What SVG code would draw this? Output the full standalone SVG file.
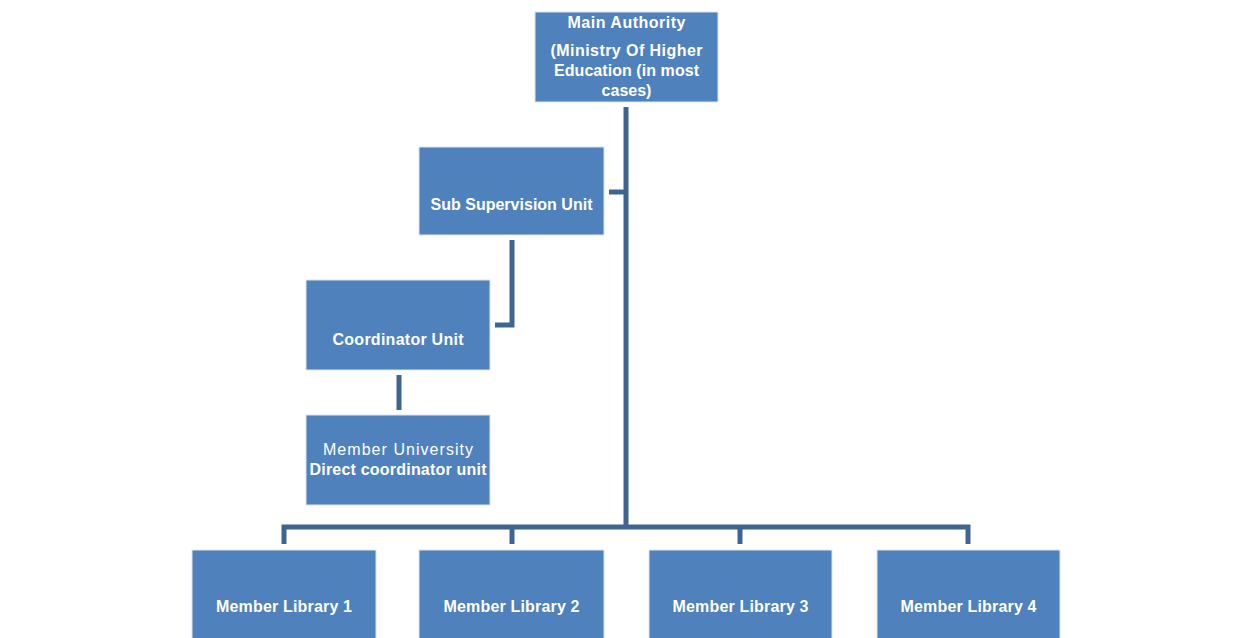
<svg xmlns="http://www.w3.org/2000/svg" width="1233" height="638" viewBox="0 0 1233 638">
<style>
.box{fill:#4F81BD;stroke:#DDE6F1;stroke-width:1}
.t{font-family:"Liberation Sans",Arial,sans-serif;font-weight:bold;font-size:16px;fill:#FFFFFF;text-anchor:middle}
.r{font-weight:normal}
.c{fill:none;stroke:#3E6591;stroke-width:5;stroke-linejoin:miter}
</style>
<rect width="1233" height="638" fill="#FFFFFF"/>
<g id="connectors">
<path class="c" d="M626,107 V527"/>
<path class="c" d="M609,192 H626"/>
<path class="c" d="M512,240 V325 H495"/>
<path class="c" d="M399,375 V410"/>
<path class="c" d="M284,544 V527 H968 V544"/>
<path class="c" d="M512,527 V544"/>
<path class="c" d="M740,527 V544"/>
</g>
<g id="main-authority">
<rect class="box" x="535" y="12" width="183" height="90"/>
<text class="t" x="626.5" y="28" textLength="118">Main Authority</text>
<text class="t" x="626.5" y="56" textLength="152">(Ministry Of Higher</text>
<text class="t" x="626.5" y="76" textLength="145">Education (in most</text>
<text class="t" x="626.5" y="96">cases)</text>
</g>
<g id="sub-supervision">
<rect class="box" x="419" y="147" width="185" height="88"/>
<text class="t" x="511.5" y="210" textLength="162">Sub Supervision Unit</text>
</g>
<g id="coordinator">
<rect class="box" x="306" y="280" width="184" height="90"/>
<text class="t" x="398" y="345" textLength="131">Coordinator Unit</text>
</g>
<g id="member-university">
<rect class="box" x="306" y="415" width="184" height="90"/>
<text class="t r" x="398" y="455" textLength="150">Member University</text>
<text class="t" x="398" y="475" textLength="177">Direct coordinator unit</text>
</g>
<g id="library-1">
<rect class="box" x="192" y="550" width="184" height="92"/>
<text class="t" x="284" y="612" textLength="136">Member Library 1</text>
</g>
<g id="library-2">
<rect class="box" x="419" y="550" width="185" height="92"/>
<text class="t" x="511.5" y="612" textLength="136">Member Library 2</text>
</g>
<g id="library-3">
<rect class="box" x="649" y="550" width="183" height="92"/>
<text class="t" x="740.5" y="612" textLength="136">Member Library 3</text>
</g>
<g id="library-4">
<rect class="box" x="877" y="550" width="183" height="92"/>
<text class="t" x="968.5" y="612" textLength="136">Member Library 4</text>
</g>
</svg>
